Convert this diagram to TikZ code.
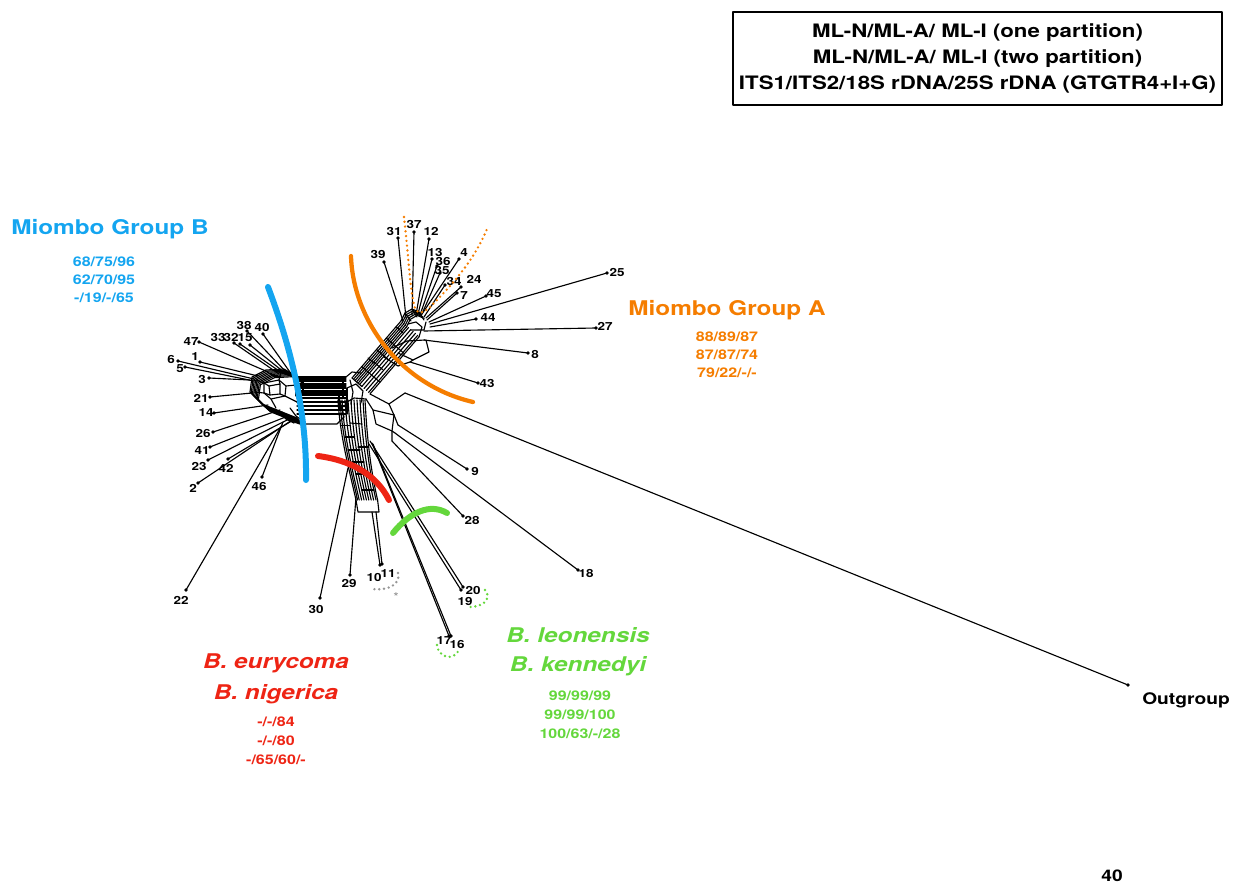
\documentclass[tikz,border=0pt]{standalone}
\usepackage{fontspec}
\setmainfont{TeX Gyre Heros}[FakeStretch=1.2]
\definecolor{grpblue}{RGB}{20,165,240}
\definecolor{grporange}{RGB}{245,125,0}
\definecolor{grpred}{RGB}{238,36,20}
\definecolor{grpgreen}{RGB}{100,215,60}
\definecolor{markgrey}{RGB}{150,150,150}
\begin{document}
\begin{tikzpicture}[x=0.75pt,y=-0.75pt,line cap=round,line join=round,
  net/.style={line width=0.85pt},
  leafedge/.style={line width=0.85pt},
  leaflabel/.style={font=\bfseries\fontsize{8.4}{9}\selectfont,inner sep=0pt},
  grouplabel/.style={font=\bfseries\fontsize{15.2}{17}\selectfont,inner sep=0pt},
  specieslabel/.style={font=\bfseries\itshape\fontsize{15.2}{17}\selectfont,inner sep=0pt},
  support/.style={font=\bfseries\fontsize{10}{13.5}\selectfont,align=center,inner sep=0pt},
  legendbox/.style={draw,line width=1.5pt,align=center,minimum width=366.75pt,
    minimum height=69.75pt,inner sep=0pt,font=\bfseries\fontsize{13.9}{19.5}\selectfont},
  cladearc/.style={line width=4.5pt},
  dotline/.style={line width=2pt,dash pattern=on 0pt off 3.6pt}]
\useasboundingbox (0,0) rectangle (1235,888);

% Drawing the central splits network
% horizontal band
\foreach \yy in {377,379,381,384,386,388,391,393,395,398,402,406,410,414}
  \draw[net] (297,\yy) -- (346,\yy);
\draw[net] (296,377) -- (296,396);
\draw[net] (300,391) -- (300,414);
\draw[net] (303,379) -- (303,393);
\draw[net] (343,377) -- (343,398);
\draw[net] (347,388) -- (347,414);
\draw[net] (339,393) -- (339,410);

% left hub
\foreach \k in {0,...,7}
  \draw[net,shift={(1.2*\k,1.1*\k)}] (297,377) -- (284,369) -- (266,370) -- (252,377)
    -- (250,392) -- (262,404) -- (282,412) -- (297,418);
\draw[net] (264,383) -- (279,380) -- (286,386) -- (285,396) -- (271,399) -- (264,393) -- cycle;
\draw[net] (269,386) -- (280,384) -- (280,394) -- (270,395) -- cycle;
\draw[net] (264,383) -- (269,386) (279,380) -- (280,384) (285,396) -- (280,394) (264,393) -- (270,395);
\draw[net] (256,380) -- (264,383) (254,392) -- (264,393) (286,386) -- (296,385) (285,396) -- (297,402);
\draw[net] (271,399) -- (276,408) (279,380) -- (281,372);
\draw[net] (282,412) -- (291,421) -- (300,424) -- (337,424) -- (344,417);
\draw[net] (275,409) -- (286,419) -- (294,423);
\draw[net] (290,408) -- (296,416) -- (300,419);

% right hub
\draw[net] (346,377) -- (352,372) -- (361,373);
\draw[net] (347,388) -- (356,384) -- (363,391) -- (361,403);
\draw[net] (347,402) -- (354,398) -- (366,399);
\draw[net] (344,417) -- (340,402);
\draw[net] (350,380) -- (353,392) -- (351,404);

% diagonal band to the top hub
\foreach \k in {0,2,4,6,8,10,13,16,19,22,24}
  \draw[net,shift={(0.757*\k,0.653*\k)}] (352,378) -- (401,321);
\draw[net] (352,378) -- ++(10,8.6);
\draw[net] (361.8,366.6) -- ++(18.2,15.7);
\draw[net] (373.7,361.9) -- ++(9.1,7.8);
\draw[net] (376.5,349.5) -- ++(11.4,9.8);
\draw[net] (386.3,338.1) -- ++(18.2,15.7);
\draw[net] (396.1,326.7) -- ++(6.8,5.9);
\draw[net] (368,358) -- ++(6,5.2);

% top hub
\foreach \k in {0,...,4}
  \draw[net,shift={(1.3*\k,1.6*\k)}] (401,321) -- (405,313) -- (412,309) -- (419,312);
\draw[net] (405,313) -- (411,321) (412,309) -- (417,317) (419,312) -- (424,320);
\draw[net] (408,324) -- (416,322) -- (422,327) -- (419,337);
\draw[net] (411,330) -- (424,330) -- (426,322);

% boxes towards 8 and 43
\draw[net] (392,348) -- (407,341) -- (425,340);
\draw[net] (398,353) -- (413,360) -- (429,352) -- (426,340);
\draw[net] (384,357) -- (398,366) -- (410,362) -- (413,360);

% boxes towards the outgroup, 9, 18 and 28
\draw[net] (370,394) -- (389,404) -- (405,393);
\draw[net] (366,399) -- (373,410) -- (394,415) -- (398,425);
\draw[net] (389,404) -- (394,415);
\draw[net] (373,410) -- (376,424) -- (392,431) -- (395,433);
\draw[net] (394,415) -- (392,431) -- (392,441);

% down band
\foreach \k in {0,2,4,7,10,13,16,19,22,25,27}
  \draw[net] ({338+\k},400) .. controls ({340+\k},435) and ({348+0.8*\k},465) .. ({356+0.8*\k},500);
\draw[net] (340.5,425.5) -- (350,425.5);
\draw[net] (350,423) -- (362,424);
\draw[net] (348,450) -- (360,450);
\draw[net] (358,447) -- (368,447);
\draw[net] (356,474) -- (368,474);
\draw[net] (362,490) -- (374,490);
\draw[net] (345,437) -- (354,437);
\draw[net] (352,462) -- (364,462);
\draw[net] (356,500) -- (358,512) -- (379,512) -- (377.6,500);

% Drawing the leaf edges
\foreach \n/\ax/\ay/\dx/\dy/\lx/\ly in {
  38/286/372/247/331/244/325, 40/292/375/263/334/262/327,
  33/279/374/234/343/218/337, 32/282/373/240/344/231/337,
  15/285/373/250/345/245/338, 47/268/372/199/342/191/342,
  1/258/376/200/362/195/357, 6/254/379/178/361/171/359,
  5/254/381/185/367/180/369, 3/250/380/209/378/202/379,
  21/252/393/210/397/201/398, 14/268/405/214/413/206/413,
  26/280/410/213/432/203/433, 41/288/416/210/447/202/451,
  23/291/418/208/460/199/466, 42/295/419/228/459/226/468,
  2/292/420/198/483/193/488, 46/283/422/262/477/259/486,
  22/282/425/186/590/181/600,
  39/403/321/384/262/378/254, 31/406/318/398/238/394/231,
  37/412/315/414/232/414/224, 12/416/315/429/239/431/231,
  13/418/314/432/259/435/252, 36/420/315/437/266/443/261,
  35/421/316/440/273/442/270, 4/422/314/459/259/464/253,
  34/424/317/445/285/454/281, 24/426/318/461/287/474/279,
  7/427/320/457/293/464/296, 45/429/322/486/296/494/294,
  25/430/324/607/273/617/272, 44/430/327/476/319/488/318,
  27/424/331/596/328/605/326, 8/424/340/528/353/535/354,
  43/410/362/478/383/487/383,
  9/398/425/467/469/475/471, 18/395/433/578/570/586/573,
  28/392/441/463/516/472/520, 20/370/441/463/587/473/590,
  19/369/444/461/590/465/601, 17/372/443/449/636/444/641,
  16/373/444/451/636/457/644, 10/372/512/380/565/374/577,
  11/376/512/382/564/388/574, 29/356/497/350/575/349/583,
  30/348/468/320/598/316/609}{
  \coordinate (a\n) at (\ax,\ay);
  \coordinate (d\n) at (\dx,\dy);
  \draw[leafedge] (a\n) -- (d\n);
  \fill (d\n) circle[radius=1.4pt];
  \node[leaflabel] (l\n) at (\lx,\ly) {\n};
}

% Drawing the outgroup
\coordinate (aOut) at (405,393);
\coordinate (dOut) at (1128,685);
\draw[leafedge] (aOut) -- (dOut);
\fill (dOut) circle[radius=1.4pt];
\node[font=\bfseries\fontsize{12}{14}\selectfont,inner sep=0pt,anchor=west] (lOut) at (1142,700) {Outgroup};

% Drawing the clade arcs
\draw[cladearc,grpblue] (268,287) .. controls (290,345) and (307,410) .. (306,480);
\draw[cladearc,grporange,line width=3.2pt] (351,256) .. controls (353,320) and (400,385) .. (473,402);
\draw[cladearc,grpred] (318,456) .. controls (350,460) and (376,474) .. (389,500);
\draw[cladearc,grpgreen] (393,533) .. controls (410,512) and (430,503) .. (447,513);

% Drawing the dotted marks
\draw[dotline,grporange] (404,217) .. controls (409,260) and (410,292) .. (415,308)
  .. controls (418,316) and (426,312) .. (433,304) .. controls (455,282) and (475,258) .. (487,229);
\draw[dotline,markgrey] (398,573) .. controls (401,585) and (387,591) .. (372,589);
\node[text=markgrey,font=\bfseries\fontsize{8}{8}\selectfont,inner sep=0pt] (star) at (396,597) {*};
\draw[dotline,grpgreen] (485,590) .. controls (493,600) and (481,608) .. (467,607);
\draw[dotline,grpgreen] (437,645) .. controls (438,657) and (453,662) .. (459,650);

% Drawing the clade labels
\node[grouplabel,text=grpblue] (grpB) at (110,229) {Miombo Group B};
\node[support,text=grpblue] (supB) at (104,280) {68/75/96\\62/70/95\\-/19/-/65};
\node[grouplabel,text=grporange] (grpA) at (727,310) {Miombo Group A};
\node[support,text=grporange] (supA) at (727,355) {88/89/87\\87/87/74\\79/22/-/-};
\node[specieslabel,text=grpred] (eury) at (276,663) {B. eurycoma};
\node[specieslabel,text=grpred] (nige) at (276,694) {B. nigerica};
\node[support,text=grpred,font=\bfseries\fontsize{10}{14.2}\selectfont] (supR) at (276,741) {-/-/84\\-/-/80\\-/65/60/-};
\node[specieslabel,text=grpgreen] (leon) at (578,635) {B. leonensis};
\node[specieslabel,text=grpgreen] (kenn) at (578,666) {B. kennedyi};
\node[support,text=grpgreen,font=\bfseries\fontsize{10}{14.2}\selectfont] (supG) at (580,715) {99/99/99\\99/99/100\\100/63/-/28};

% Drawing the legend
\node[legendbox] (legend) at (977.5,58.5) {ML-N/ML-A/ ML-I (one partition)\\ML-N/ML-A/ ML-I (two partition)\\ITS1/ITS2/18S rDNA/25S rDNA (GTGTR4+I+G)};
\node[font=\bfseries\fontsize{12}{14}\selectfont,inner sep=0pt] (page) at (1112,876) {40};
\end{tikzpicture}
\end{document}
